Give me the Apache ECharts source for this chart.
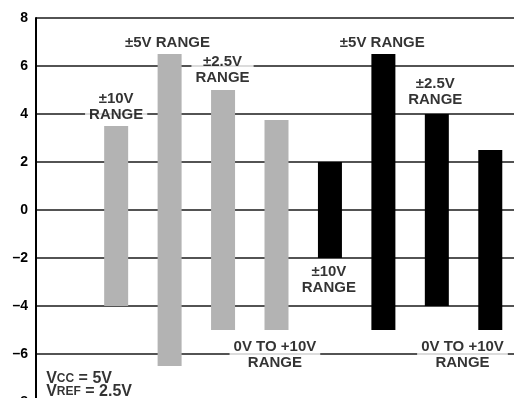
<!DOCTYPE html>
<html>
<head>
<meta charset="utf-8">
<script src="https://cdn.jsdelivr.net/npm/echarts@6/dist/echarts.min.js"></script>
<style>html,body{margin:0;padding:0;background:#fff;}#c{width:514px;height:398px;}</style>
</head>
<body>
<div id="c"></div>
<script>
// ---- data ----
const ranges = ['±10V', '±5V', '±2.5V', '0V TO +10V'];
const grayLow = [-4, -6.5, -5, -5];
const grayHigh = [3.5, 6.5, 5, 3.75];
const blackLow = [-2, -5, -4, -5];
const blackHigh = [2, 6.5, 4, 2.5];
const yTicks = [-8, -6, -4, -2, 0, 2, 4, 6, 8];

// annotation texts and their data-space anchors
const labelTexts = ['±10V\nRANGE', '±5V RANGE', '±2.5V\nRANGE', '0V TO +10V\nRANGE',
                    '±10V\nRANGE', '±5V RANGE', '±2.5V\nRANGE', '0V TO +10V\nRANGE'];
const labelX = [1.5, 2.46, 3.49, 4.47, 5.48, 6.48, 7.47, 7.98];
const labelY = [4.3, 6.95, 5.85, -6.04, -2.92, 6.95, 4.94, -6.04];
const noteX = 0.19;
const noteY = [-6.98, -7.52];

const FONT = '"Liberation Sans", Arial, Helvetica, sans-serif';

const grayData = ranges.map((r, i) => [i + 1.5, grayLow[i], grayHigh[i]]);
const blackData = ranges.map((r, i) => [i + 5.5, blackLow[i], blackHigh[i]]);

function barRender(color) {
  return function (params, api) {
    const x = api.value(0), lo = api.value(1), hi = api.value(2);
    const pTop = api.coord([x, hi]);
    const pBot = api.coord([x, lo]);
    const w = 24;
    return {
      type: 'rect',
      shape: { x: pTop[0] - w / 2, y: pTop[1], width: w, height: pBot[1] - pTop[1] },
      style: { fill: color }
    };
  };
}

const labelData = labelTexts.map((t, i) => ({ value: [labelX[i], labelY[i]], text: t }));

const chart = echarts.init(document.getElementById('c'), null, { renderer: 'canvas' });
chart.setOption({
  animation: false,
  backgroundColor: '#fff',
  grid: { left: 36, top: 18, width: 481, height: 384, containLabel: false, outerBoundsMode: 'none' },
  xAxis: {
    type: 'value', min: 0, max: 9,
    axisLine: { show: false }, axisTick: { show: false }, axisLabel: { show: false },
    splitLine: { show: false }
  },
  yAxis: {
    type: 'value', min: yTicks[0], max: yTicks[yTicks.length - 1], interval: 2,
    axisLine: { show: true, onZero: false, lineStyle: { color: '#000', width: 2 } },
    axisTick: { show: false },
    axisLabel: {
      margin: 8, color: '#000', fontFamily: FONT, fontWeight: 'bold', fontSize: 14,
      formatter: v => (v < 0 ? '\u2013' + Math.abs(v) : String(v))
    },
    splitLine: { show: true, lineStyle: { color: '#1a1a1a', width: 1.5 } }
  },
  series: [
    {
      type: 'custom', renderItem: barRender('#b3b3b3'), data: grayData,
      encode: { x: 0, y: [1, 2] }, z: 2, silent: true
    },
    {
      type: 'custom', renderItem: barRender('#000000'), data: blackData,
      encode: { x: 0, y: [1, 2] }, z: 2, silent: true
    },
    {
      type: 'scatter', symbolSize: 0, z: 5, silent: true,
      data: labelData,
      label: {
        show: true, position: 'inside',
        formatter: p => p.data.text,
        color: '#000', fontFamily: FONT, fontWeight: 'bold', fontSize: 15, lineHeight: 16,
        align: 'center', verticalAlign: 'middle',
        backgroundColor: '#fff', padding: [1, 4]
      }
    },
    {
      type: 'scatter', symbolSize: 0, z: 5, silent: true,
      data: [
        { value: [noteX, noteY[0]], text: '{v|V}{s|CC}{v| = 5V}' },
        { value: [noteX, noteY[1]], text: '{v|V}{s|REF}{v| = 2.5V}' }
      ],
      label: {
        show: true, position: 'inside', align: 'left', verticalAlign: 'middle',
        formatter: p => p.data.text,
        rich: {
          v: { fontFamily: FONT, fontWeight: 'bold', fontSize: 16, color: '#000', lineHeight: 14, verticalAlign: 'top' },
          s: { fontFamily: FONT, fontWeight: 'bold', fontSize: 12, color: '#000', lineHeight: 12, padding: [7, 0, 0, 0], verticalAlign: 'bottom' }
        }
      }
    }
  ]
});
</script>
</body>
</html>
